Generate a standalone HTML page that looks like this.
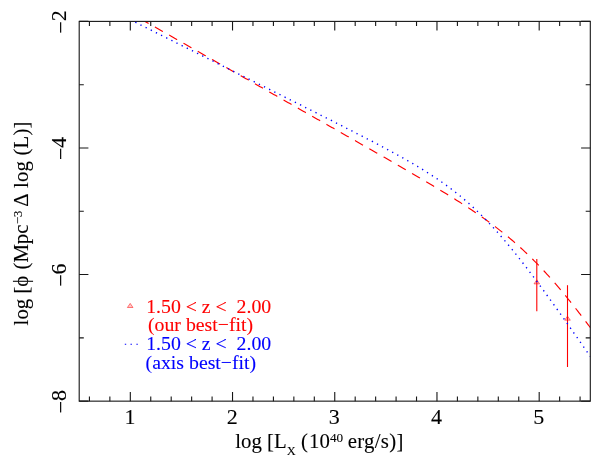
<!DOCTYPE html>
<html><head><meta charset="utf-8"><title>plot</title>
<style>
html,body{margin:0;padding:0;background:#fff;}
body{width:598px;height:470px;overflow:hidden;}
svg{display:block;will-change:transform;filter:opacity(1);}
text{font-family:"Liberation Serif",serif;stroke-width:0.1;paint-order:stroke;}
</style></head><body>
<svg width="598" height="470" viewBox="0 0 598 470">
<rect x="0" y="0" width="598" height="470" fill="#fff"/>
<defs><clipPath id="c"><rect x="79.20" y="21.40" width="511.10" height="379.75"/></clipPath></defs>
<g stroke="#f00" stroke-width="1.1" fill="none">
<line x1="536.8" y1="259.1" x2="536.8" y2="311.3"/>
<line x1="567.5" y1="285.2" x2="567.5" y2="367"/>
</g>
<path d="M536.80,279.80 L539.60,283.90 L534.00,283.90 Z" fill="#f00" fill-opacity="0.22" stroke="#f00" stroke-width="0.5"/>
<path d="M567.50,316.10 L570.30,320.20 L564.70,320.20 Z" fill="#f00" fill-opacity="0.22" stroke="#f00" stroke-width="0.5"/>
<g clip-path="url(#c)" fill="none">
<path d="M145.09,21.40 L146.02,21.93 L147.30,22.66 L148.58,23.39 L149.87,24.11 L151.15,24.84 L152.43,25.57 L153.71,26.29 L154.99,27.02 L156.27,27.75 L157.55,28.48 L158.83,29.20 L160.12,29.93 L161.40,30.66 L162.68,31.38 L163.96,32.11 L165.24,32.84 L166.52,33.57 L167.80,34.29 L169.08,35.02 L170.37,35.75 L171.65,36.47 L172.93,37.20 L174.21,37.93 L175.49,38.65 L176.77,39.38 L178.05,40.11 L179.33,40.84 L180.62,41.56 L181.90,42.29 L183.18,43.02 L184.46,43.74 L185.74,44.47 L187.02,45.20 L188.30,45.93 L189.58,46.65 L190.86,47.38 L192.15,48.11 L193.43,48.83 L194.71,49.56 L195.99,50.29 L197.27,51.02 L198.55,51.74 L199.83,52.47 L201.11,53.20 L202.40,53.92 L203.68,54.65 L204.96,55.38 L206.24,56.11 L207.52,56.83 L208.80,57.56 L210.08,58.29 L211.36,59.01 L212.65,59.74 L213.93,60.47 L215.21,61.20 L216.49,61.92 L217.77,62.65 L219.05,63.38 L220.33,64.10 L221.61,64.83 L222.89,65.56 L224.18,66.29 L225.46,67.01 L226.74,67.74 L228.02,68.47 L229.30,69.19 L230.58,69.92 L231.86,70.65 L233.14,71.38 L234.43,72.10 L235.71,72.83 L236.99,73.56 L238.27,74.28 L239.55,75.01 L240.83,75.74 L242.11,76.47 L243.39,77.19 L244.68,77.92 L245.96,78.65 L247.24,79.37 L248.52,80.10 L249.80,80.83 L251.08,81.56 L252.36,82.28 L253.64,83.01 L254.92,83.74 L256.21,84.46 L257.49,85.19 L258.77,85.92 L260.05,86.65 L261.33,87.37 L262.61,88.10 L263.89,88.83 L265.17,89.56 L266.46,90.28 L267.74,91.01 L269.02,91.74 L270.30,92.46 L271.58,93.19 L272.86,93.92 L274.14,94.65 L275.42,95.37 L276.71,96.10 L277.99,96.83 L279.27,97.56 L280.55,98.28 L281.83,99.01 L283.11,99.74 L284.39,100.46 L285.67,101.19 L286.95,101.92 L288.24,102.65 L289.52,103.37 L290.80,104.10 L292.08,104.83 L293.36,105.56 L294.64,106.28 L295.92,107.01 L297.20,107.74 L298.49,108.47 L299.77,109.20 L301.05,109.92 L302.33,110.65 L303.61,111.38 L304.89,112.11 L306.17,112.83 L307.45,113.56 L308.74,114.29 L310.02,115.02 L311.30,115.74 L312.58,116.47 L313.86,117.20 L315.14,117.93 L316.42,118.66 L317.70,119.38 L318.98,120.11 L320.27,120.84 L321.55,121.57 L322.83,122.30 L324.11,123.03 L325.39,123.75 L326.67,124.48 L327.95,125.21 L329.23,125.94 L330.52,126.67 L331.80,127.40 L333.08,128.12 L334.36,128.85 L335.64,129.58 L336.92,130.31 L338.20,131.04 L339.48,131.77 L340.77,132.50 L342.05,133.23 L343.33,133.96 L344.61,134.69 L345.89,135.41 L347.17,136.14 L348.45,136.87 L349.73,137.60 L351.02,138.33 L352.30,139.06 L353.58,139.79 L354.86,140.52 L356.14,141.25 L357.42,141.98 L358.70,142.72 L359.98,143.45 L361.26,144.18 L362.55,144.91 L363.83,145.64 L365.11,146.37 L366.39,147.10 L367.67,147.83 L368.95,148.57 L370.23,149.30 L371.51,150.03 L372.80,150.76 L374.08,151.50 L375.36,152.23 L376.64,152.96 L377.92,153.70 L379.20,154.43 L380.48,155.16 L381.76,155.90 L383.05,156.63 L384.33,157.37 L385.61,158.11 L386.89,158.84 L388.17,159.58 L389.45,160.31 L390.73,161.05 L392.01,161.79 L393.29,162.53 L394.58,163.26 L395.86,164.00 L397.14,164.74 L398.42,165.48 L399.70,166.22 L400.98,166.96 L402.26,167.71 L403.54,168.45 L404.83,169.19 L406.11,169.93 L407.39,170.68 L408.67,171.42 L409.95,172.17 L411.23,172.92 L412.51,173.66 L413.79,174.41 L415.08,175.16 L416.36,175.91 L417.64,176.66 L418.92,177.41 L420.20,178.17 L421.48,178.92 L422.76,179.67 L424.04,180.43 L425.32,181.19 L426.61,181.95 L427.89,182.71 L429.17,183.47 L430.45,184.23 L431.73,184.99 L433.01,185.76 L434.29,186.53 L435.57,187.30 L436.86,188.07 L438.14,188.84 L439.42,189.61 L440.70,190.39 L441.98,191.17 L443.26,191.95 L444.54,192.73 L445.82,193.52 L447.11,194.30 L448.39,195.09 L449.67,195.89 L450.95,196.68 L452.23,197.48 L453.51,198.28 L454.79,199.08 L456.07,199.89 L457.35,200.70 L458.64,201.51 L459.92,202.32 L461.20,203.14 L462.48,203.97 L463.76,204.79 L465.04,205.62 L466.32,206.46 L467.60,207.30 L468.89,208.14 L470.17,208.99 L471.45,209.84 L472.73,210.69 L474.01,211.56 L475.29,212.42 L476.57,213.29 L477.85,214.17 L479.14,215.05 L480.42,215.94 L481.70,216.84 L482.98,217.74 L484.26,218.64 L485.54,219.56 L486.82,220.48 L488.10,221.40 L489.38,222.34 L490.67,223.28 L491.95,224.22 L493.23,225.18 L494.51,226.14 L495.79,227.11 L497.07,228.09 L498.35,229.08 L499.63,230.08 L500.92,231.08 L502.20,232.09 L503.48,233.12 L504.76,234.15 L506.04,235.19 L507.32,236.24 L508.60,237.30 L509.88,238.37 L511.17,239.45 L512.45,240.54 L513.73,241.64 L515.01,242.76 L516.29,243.88 L517.57,245.01 L518.85,246.16 L520.13,247.31 L521.42,248.48 L522.70,249.66 L523.98,250.85 L525.26,252.05 L526.54,253.27 L527.82,254.49 L529.10,255.73 L530.38,256.98 L531.66,258.24 L532.95,259.51 L534.23,260.80 L535.51,262.09 L536.79,263.40 L538.07,264.72 L539.35,266.05 L540.63,267.40 L541.91,268.76 L543.20,270.12 L544.48,271.50 L545.76,272.90 L547.04,274.30 L548.32,275.71 L549.60,277.14 L550.88,278.58 L552.16,280.03 L553.45,281.49 L554.73,282.96 L556.01,284.44 L557.29,285.94 L558.57,287.44 L559.85,288.95 L561.13,290.48 L562.41,292.01 L563.69,293.56 L564.98,295.11 L566.26,296.67 L567.54,298.25 L568.82,299.83 L570.10,301.42 L571.38,303.02 L572.66,304.63 L573.94,306.25 L575.23,307.87 L576.51,309.50 L577.79,311.15 L579.07,312.80 L580.35,314.45 L581.63,316.12 L582.91,317.79 L584.19,319.46 L585.48,321.15 L586.76,322.84 L588.04,324.54 L589.32,326.24 L590.60,327.95" stroke="#f00" stroke-width="1.15" stroke-dasharray="9.2 7.24" stroke-dashoffset="5.18" stroke-linecap="butt"/>
<path d="M133.59,21.40 L134.49,21.85 L135.77,22.49 L137.05,23.13 L138.34,23.78 L139.62,24.42 L140.90,25.06 L142.18,25.70 L143.46,26.34 L144.74,26.98 L146.02,27.62 L147.30,28.26 L148.58,28.90 L149.87,29.55 L151.15,30.19 L152.43,30.83 L153.71,31.47 L154.99,32.11 L156.27,32.75 L157.55,33.39 L158.83,34.03 L160.12,34.67 L161.40,35.31 L162.68,35.96 L163.96,36.60 L165.24,37.24 L166.52,37.88 L167.80,38.52 L169.08,39.16 L170.37,39.80 L171.65,40.44 L172.93,41.08 L174.21,41.72 L175.49,42.37 L176.77,43.01 L178.05,43.65 L179.33,44.29 L180.62,44.93 L181.90,45.57 L183.18,46.21 L184.46,46.85 L185.74,47.49 L187.02,48.13 L188.30,48.78 L189.58,49.42 L190.86,50.06 L192.15,50.70 L193.43,51.34 L194.71,51.98 L195.99,52.62 L197.27,53.26 L198.55,53.90 L199.83,54.55 L201.11,55.19 L202.40,55.83 L203.68,56.47 L204.96,57.11 L206.24,57.75 L207.52,58.39 L208.80,59.03 L210.08,59.67 L211.36,60.32 L212.65,60.96 L213.93,61.60 L215.21,62.24 L216.49,62.88 L217.77,63.52 L219.05,64.16 L220.33,64.80 L221.61,65.44 L222.89,66.09 L224.18,66.73 L225.46,67.37 L226.74,68.01 L228.02,68.65 L229.30,69.29 L230.58,69.93 L231.86,70.57 L233.14,71.21 L234.43,71.86 L235.71,72.50 L236.99,73.14 L238.27,73.78 L239.55,74.42 L240.83,75.06 L242.11,75.70 L243.39,76.35 L244.68,76.99 L245.96,77.63 L247.24,78.27 L248.52,78.91 L249.80,79.55 L251.08,80.19 L252.36,80.83 L253.64,81.48 L254.92,82.12 L256.21,82.76 L257.49,83.40 L258.77,84.04 L260.05,84.68 L261.33,85.33 L262.61,85.97 L263.89,86.61 L265.17,87.25 L266.46,87.89 L267.74,88.53 L269.02,89.18 L270.30,89.82 L271.58,90.46 L272.86,91.10 L274.14,91.74 L275.42,92.39 L276.71,93.03 L277.99,93.67 L279.27,94.31 L280.55,94.95 L281.83,95.60 L283.11,96.24 L284.39,96.88 L285.67,97.52 L286.95,98.16 L288.24,98.81 L289.52,99.45 L290.80,100.09 L292.08,100.74 L293.36,101.38 L294.64,102.02 L295.92,102.66 L297.20,103.31 L298.49,103.95 L299.77,104.59 L301.05,105.24 L302.33,105.88 L303.61,106.52 L304.89,107.17 L306.17,107.81 L307.45,108.46 L308.74,109.10 L310.02,109.74 L311.30,110.39 L312.58,111.03 L313.86,111.68 L315.14,112.32 L316.42,112.97 L317.70,113.61 L318.98,114.26 L320.27,114.90 L321.55,115.55 L322.83,116.20 L324.11,116.84 L325.39,117.49 L326.67,118.13 L327.95,118.78 L329.23,119.43 L330.52,120.08 L331.80,120.72 L333.08,121.37 L334.36,122.02 L335.64,122.67 L336.92,123.32 L338.20,123.97 L339.48,124.62 L340.77,125.27 L342.05,125.92 L343.33,126.57 L344.61,127.22 L345.89,127.87 L347.17,128.53 L348.45,129.18 L349.73,129.83 L351.02,130.49 L352.30,131.14 L353.58,131.80 L354.86,132.45 L356.14,133.11 L357.42,133.77 L358.70,134.43 L359.98,135.09 L361.26,135.75 L362.55,136.41 L363.83,137.07 L365.11,137.73 L366.39,138.40 L367.67,139.06 L368.95,139.73 L370.23,140.39 L371.51,141.06 L372.80,141.73 L374.08,142.40 L375.36,143.07 L376.64,143.74 L377.92,144.42 L379.20,145.10 L380.48,145.77 L381.76,146.45 L383.05,147.13 L384.33,147.82 L385.61,148.50 L386.89,149.19 L388.17,149.87 L389.45,150.56 L390.73,151.26 L392.01,151.95 L393.29,152.65 L394.58,153.35 L395.86,154.05 L397.14,154.76 L398.42,155.46 L399.70,156.17 L400.98,156.89 L402.26,157.60 L403.54,158.32 L404.83,159.05 L406.11,159.77 L407.39,160.50 L408.67,161.24 L409.95,161.97 L411.23,162.72 L412.51,163.46 L413.79,164.21 L415.08,164.97 L416.36,165.73 L417.64,166.49 L418.92,167.26 L420.20,168.04 L421.48,168.82 L422.76,169.60 L424.04,170.40 L425.32,171.19 L426.61,172.00 L427.89,172.81 L429.17,173.63 L430.45,174.45 L431.73,175.28 L433.01,176.12 L434.29,176.96 L435.57,177.82 L436.86,178.68 L438.14,179.55 L439.42,180.43 L440.70,181.31 L441.98,182.21 L443.26,183.12 L444.54,184.03 L445.82,184.95 L447.11,185.89 L448.39,186.83 L449.67,187.79 L450.95,188.75 L452.23,189.73 L453.51,190.71 L454.79,191.71 L456.07,192.72 L457.35,193.74 L458.64,194.77 L459.92,195.82 L461.20,196.87 L462.48,197.94 L463.76,199.03 L465.04,200.12 L466.32,201.23 L467.60,202.35 L468.89,203.48 L470.17,204.63 L471.45,205.79 L472.73,206.96 L474.01,208.15 L475.29,209.35 L476.57,210.56 L477.85,211.79 L479.14,213.03 L480.42,214.29 L481.70,215.56 L482.98,216.84 L484.26,218.14 L485.54,219.45 L486.82,220.77 L488.10,222.11 L489.38,223.46 L490.67,224.82 L491.95,226.20 L493.23,227.59 L494.51,229.00 L495.79,230.41 L497.07,231.84 L498.35,233.28 L499.63,234.74 L500.92,236.20 L502.20,237.68 L503.48,239.17 L504.76,240.67 L506.04,242.19 L507.32,243.71 L508.60,245.25 L509.88,246.79 L511.17,248.35 L512.45,249.92 L513.73,251.49 L515.01,253.08 L516.29,254.68 L517.57,256.28 L518.85,257.90 L520.13,259.52 L521.42,261.15 L522.70,262.80 L523.98,264.44 L525.26,266.10 L526.54,267.77 L527.82,269.44 L529.10,271.12 L530.38,272.81 L531.66,274.50 L532.95,276.20 L534.23,277.91 L535.51,279.62 L536.79,281.34 L538.07,283.06 L539.35,284.79 L540.63,286.53 L541.91,288.27 L543.20,290.02 L544.48,291.77 L545.76,293.52 L547.04,295.28 L548.32,297.05 L549.60,298.82 L550.88,300.59 L552.16,302.37 L553.45,304.15 L554.73,305.93 L556.01,307.72 L557.29,309.51 L558.57,311.31 L559.85,313.10 L561.13,314.90 L562.41,316.71 L563.69,318.51 L564.98,320.32 L566.26,322.13 L567.54,323.95 L568.82,325.76 L570.10,327.58 L571.38,329.40 L572.66,331.23 L573.94,333.05 L575.23,334.88 L576.51,336.70 L577.79,338.53 L579.07,340.37 L580.35,342.20 L581.63,344.03 L582.91,345.87 L584.19,347.71 L585.48,349.55 L586.76,351.39 L588.04,353.23 L589.32,355.07 L590.60,356.92" stroke="#00f" stroke-width="1.4" stroke-dasharray="1.3 4.456" stroke-dashoffset="3.87" stroke-linecap="butt"/>
</g>
<g stroke="#161616" stroke-width="1.1" fill="none" stroke-linecap="butt">
<rect x="79.20" y="21.40" width="511.10" height="379.75"/>
<path d="M89.42,401.15v-4.60M89.42,21.40v4.60M109.87,401.15v-4.60M109.87,21.40v4.60M130.31,401.15v-9.20M130.31,21.40v9.20M150.75,401.15v-4.60M150.75,21.40v4.60M171.20,401.15v-4.60M171.20,21.40v4.60M191.64,401.15v-4.60M191.64,21.40v4.60M212.09,401.15v-4.60M212.09,21.40v4.60M232.53,401.15v-9.20M232.53,21.40v9.20M252.97,401.15v-4.60M252.97,21.40v4.60M273.42,401.15v-4.60M273.42,21.40v4.60M293.86,401.15v-4.60M293.86,21.40v4.60M314.31,401.15v-4.60M314.31,21.40v4.60M334.75,401.15v-9.20M334.75,21.40v9.20M355.19,401.15v-4.60M355.19,21.40v4.60M375.64,401.15v-4.60M375.64,21.40v4.60M396.08,401.15v-4.60M396.08,21.40v4.60M416.53,401.15v-4.60M416.53,21.40v4.60M436.97,401.15v-9.20M436.97,21.40v9.20M457.41,401.15v-4.60M457.41,21.40v4.60M477.86,401.15v-4.60M477.86,21.40v4.60M498.30,401.15v-4.60M498.30,21.40v4.60M518.75,401.15v-4.60M518.75,21.40v4.60M539.19,401.15v-9.20M539.19,21.40v9.20M559.63,401.15v-4.60M559.63,21.40v4.60M580.08,401.15v-4.60M580.08,21.40v4.60M79.20,401.15h9.20M590.30,401.15h-9.20M79.20,337.86h4.60M590.30,337.86h-4.60M79.20,274.57h9.20M590.30,274.57h-9.20M79.20,211.28h4.60M590.30,211.28h-4.60M79.20,147.98h9.20M590.30,147.98h-9.20M79.20,84.69h4.60M590.30,84.69h-4.60M79.20,21.40h9.20M590.30,21.40h-9.20"/>
</g>
<g font-size="22.0px" fill="#000" stroke="#000" text-anchor="middle">
<text x="129.91" y="424.10">1</text>
<text x="232.13" y="424.10">2</text>
<text x="334.35" y="424.10">3</text>
<text x="436.57" y="424.10">4</text>
<text x="538.79" y="424.10">5</text>
<text transform="translate(66.20,22.50) rotate(-90)" x="0" y="0"><tspan dy="2.0" dx="0.6">−</tspan><tspan dy="-2.0" dx="-0.3">2</tspan></text>
<text transform="translate(66.20,149.08) rotate(-90)" x="0" y="0"><tspan dy="2.0" dx="0.6">−</tspan><tspan dy="-2.0" dx="-0.3">4</tspan></text>
<text transform="translate(66.20,275.67) rotate(-90)" x="0" y="0"><tspan dy="2.0" dx="0.6">−</tspan><tspan dy="-2.0" dx="-0.3">6</tspan></text>
<text transform="translate(66.20,402.25) rotate(-90)" x="0" y="0"><tspan dy="2.0" dx="0.6">−</tspan><tspan dy="-2.0" dx="-0.3">8</tspan></text>
</g>
<text x="235.30" y="448.30" font-size="20.8px" fill="#000" stroke="#000">log [L<tspan font-size="12.5px" dy="6.3">X</tspan><tspan dy="-6.3"> (</tspan><tspan dx="1.2">10</tspan><tspan font-size="13.2px" dy="-6.0" dx="0.1">40</tspan><tspan dy="6.0" dx="-1.0" letter-spacing="0.3"> erg/s)]</tspan></text>
<text transform="translate(27.70,325.40) rotate(-90)" x="0" y="0" font-size="20.8px" fill="#000" stroke="#000">log [ϕ<tspan dx="1.0"> (Mpc</tspan><tspan font-size="12.5px" dy="-6.0" dx="0.5">−3</tspan><tspan dy="6.0"> </tspan><tspan font-size="20.8px" dx="-1.3">Δ</tspan><tspan letter-spacing="0.17"> log (L)]</tspan></text>
<g font-size="19.8px">
<text x="146.20" y="312.7" fill="#f00" stroke="#f00" xml:space="preserve">1.50 &lt; z &lt;  2.00</text>
<text x="148.00" y="331.1" fill="#f00" stroke="#f00">(our best−fit)</text>
<text x="146.20" y="350.0" fill="#00f" stroke="#00f" xml:space="preserve">1.50 &lt; z &lt;  2.00</text>
<text x="145.60" y="368.8" fill="#00f" stroke="#00f">(axis best−fit)</text>
</g>
<path d="M130.20,303.40 L133.00,307.50 L127.40,307.50 Z" fill="#f00" fill-opacity="0.22" stroke="#f00" stroke-width="0.5"/>
<path d="M124.8,344.2h1.4M130.5,344.2h1.4M136.4,344.2h1.4" stroke="#00f" stroke-width="1.1" fill="none"/>
</svg>
</body></html>
